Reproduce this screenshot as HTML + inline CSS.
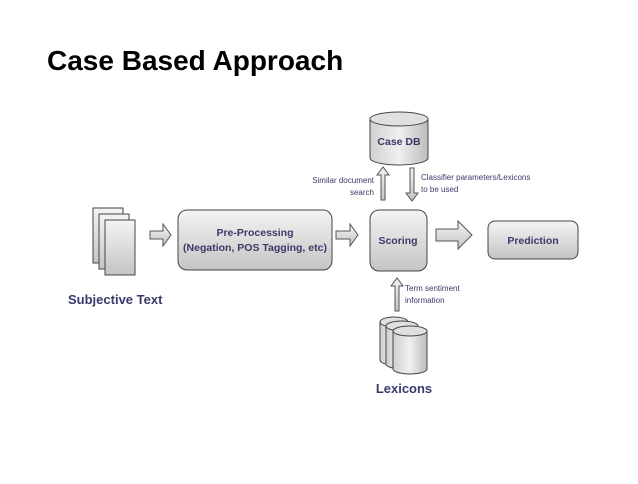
<!DOCTYPE html>
<html><head><style>
body{margin:0;background:#fff;width:638px;height:479px;overflow:hidden;font-family:"Liberation Sans",sans-serif}
</style></head><body>
<svg width="638" height="479" xmlns="http://www.w3.org/2000/svg" font-family="Liberation Sans, sans-serif">
<defs>
<linearGradient id="g" x1="0" y1="0" x2="0" y2="1"><stop offset="0" stop-color="#f4f4f4"/><stop offset="1" stop-color="#c4c4c4"/></linearGradient>
<linearGradient id="gh" x1="0" y1="0" x2="1" y2="0"><stop offset="0" stop-color="#d0d0d0"/><stop offset="0.5" stop-color="#f0f0f0"/><stop offset="1" stop-color="#bcbcbc"/></linearGradient>
</defs>
<text x="47" y="70" font-size="28" font-weight="bold" fill="#000">Case Based Approach</text>
<!-- docs -->
<rect x="93" y="208" width="30" height="55" fill="url(#g)" stroke="#444"/>
<rect x="99" y="214" width="30" height="55" fill="url(#g)" stroke="#444"/>
<rect x="105" y="220" width="30" height="55" fill="url(#g)" stroke="#444"/>
<text x="68" y="304" font-size="13" font-weight="bold" fill="#3a3a6a">Subjective  Text</text>
<!-- arrows -->
<g fill="url(#g)" stroke="#555" stroke-width="1">
<path d="M150 231h13v-7l8 11l-8 11v-7h-13z"/>
<path d="M336 231h14v-7l8 11l-8 11v-7h-14z"/>
<path d="M436 229h22v-8l14 14l-14 14v-8h-22z"/>
<path d="M381 200v-25h-4l6-8l6 8h-4v25z"/>
<path d="M410 168v25h-4l6 8l6-8h-4v-25z"/>
<path d="M395 311v-25h-4l6-8l6 8h-4v25z"/>
</g>
<!-- pre-processing -->
<rect x="178" y="210" width="154" height="60" rx="9" fill="url(#g)" stroke="#444"/>
<text x="255" y="236" font-size="10.5" font-weight="bold" fill="#3a3a6a" text-anchor="middle">Pre-Processing</text>
<text x="255" y="251" font-size="10.5" font-weight="bold" fill="#3a3a6a" text-anchor="middle">(Negation, POS Tagging, etc)</text>
<!-- scoring -->
<rect x="370" y="210" width="57" height="61" rx="9" fill="url(#g)" stroke="#444"/>
<text x="398" y="244" font-size="10.5" font-weight="bold" fill="#3a3a6a" text-anchor="middle">Scoring</text>
<!-- prediction -->
<rect x="488" y="221" width="90" height="38" rx="7" fill="url(#g)" stroke="#444"/>
<text x="533" y="244" font-size="10.5" font-weight="bold" fill="#3a3a6a" text-anchor="middle">Prediction</text>
<!-- case db -->
<path d="M370 119v39a29 7 0 0 0 58 0v-39" fill="url(#gh)" stroke="#444"/>
<ellipse cx="399" cy="119" rx="29" ry="7" fill="#e0e0e0" stroke="#444"/>
<text x="399" y="145" font-size="10.5" font-weight="bold" fill="#3a3a6a" text-anchor="middle">Case DB</text>
<text x="374" y="183" font-size="8" fill="#3a3a6a" text-anchor="end">Similar document</text>
<text x="374" y="195" font-size="8" fill="#3a3a6a" text-anchor="end">search</text>
<text x="421" y="180" font-size="8" fill="#3a3a6a">Classifier parameters/Lexicons</text>
<text x="421" y="192" font-size="8" fill="#3a3a6a">to be used</text>
<text x="405" y="291" font-size="8" fill="#3a3a6a">Term sentiment</text>
<text x="405" y="303" font-size="8" fill="#3a3a6a">information</text>
<!-- lexicons -->
<g stroke="#444">
<path d="M380 322v38a14 5 0 0 0 28 0v-38" fill="url(#gh)"/><ellipse cx="394" cy="322" rx="14" ry="5" fill="#e0e0e0"/>
<path d="M386 326v38a16 5 0 0 0 32 0v-38" fill="url(#gh)"/><ellipse cx="402" cy="326" rx="16" ry="5" fill="#e0e0e0"/>
<path d="M393 331v38a17 5 0 0 0 34 0v-38" fill="url(#gh)"/><ellipse cx="410" cy="331" rx="17" ry="5" fill="#e0e0e0"/>
</g>
<text x="404" y="393" font-size="13" font-weight="bold" fill="#3a3a6a" text-anchor="middle">Lexicons</text>
</svg>
</body></html>
